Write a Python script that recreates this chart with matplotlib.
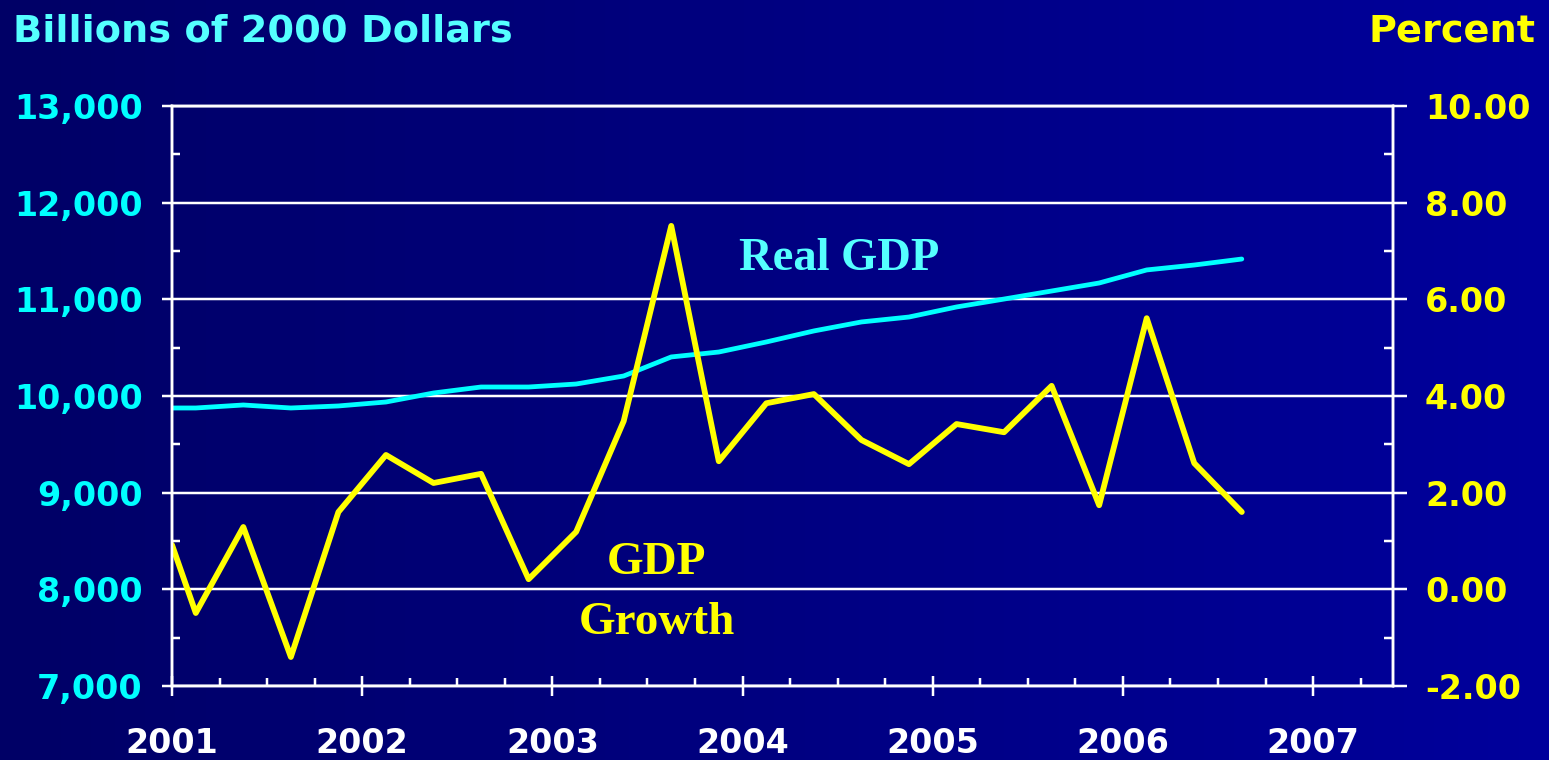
import numpy as np
import matplotlib
matplotlib.use('Agg')
import matplotlib.pyplot as plt
from matplotlib.ticker import MultipleLocator, FuncFormatter, FixedLocator

plt.rcParams['axes.unicode_minus'] = False

# quarterly points (plotted mid-quarter), first point sits on the 2001 axis
x_pos = [2001.0] + [2001.125 + 0.25 * i for i in range(23)]
real_gdp = [9876, 9876, 9907, 9876, 9897, 9938, 10031, 10093, 10093, 10124,
            10207, 10404, 10455, 10559, 10673, 10766, 10817, 10921, 11003,
            11086, 11169, 11304, 11355, 11417]
gdp_growth = [0.92, -0.49, 1.29, -1.40, 1.60, 2.78, 2.20, 2.39, 0.21, 1.19,
              3.48, 7.52, 2.65, 3.85, 4.04, 3.09, 2.59, 3.42, 3.25, 4.21,
              1.74, 5.61, 2.61, 1.60]
years = [2001, 2002, 2003, 2004, 2005, 2006, 2007]

W, H = 1549, 760
PX = 0.72  # points per pixel at dpi 100
fig = plt.figure(figsize=(W / 100, H / 100), dpi=100)

# background gradient, dark navy on the left to brighter blue on the right
bg = fig.add_axes([0, 0, 1, 1])
bg.axis('off')
t = np.linspace(0, 1, 256)
c0 = np.array([0x00, 0x00, 0x66]) / 255
c1 = np.array([0x00, 0x00, 0x9c]) / 255
grad = (c0[None, :] * (1 - t[:, None]) + c1[None, :] * t[:, None])[None, :, :]
bg.imshow(grad, aspect='auto', extent=[0, 1, 0, 1])

ax = fig.add_axes([172 / W, (H - 686) / H, (1393 - 172) / W, (686 - 106) / H])
ax.patch.set_alpha(0)
ax2 = ax.twinx()
ax2.patch.set_alpha(0)

ax.set_xlim(2001, 2007.42)
ax.set_ylim(7000, 13000)
ax2.set_ylim(-2, 10)

lw = 2.5 * PX
for a in (ax, ax2):
    for s in a.spines.values():
        s.set_color('white')
        s.set_linewidth(lw)

ax.grid(axis='y', color='white', linewidth=lw)
ax.set_axisbelow(True)

ax.plot(x_pos, real_gdp, color='#00ffff', lw=4.8 * PX, solid_capstyle='round')
ax2.plot(x_pos, gdp_growth, color='#ffff00', lw=5.8 * PX, solid_capstyle='round')

# x axis
ax.xaxis.set_major_locator(FixedLocator(years))
ax.xaxis.set_minor_locator(MultipleLocator(0.25))
ax.tick_params(axis='x', which='major', direction='inout', length=20 * PX, width=lw,
               color='white', labelcolor='white', labelsize=24, pad=22)
ax.tick_params(axis='x', which='minor', direction='in', length=8 * PX, width=lw, color='white')
for lab in ax.get_xticklabels():
    lab.set_fontweight('bold')

# left axis
ax.yaxis.set_major_locator(MultipleLocator(1000))
ax.yaxis.set_minor_locator(MultipleLocator(500))
ax.yaxis.set_major_formatter(FuncFormatter(lambda v, p: f'{v:,.0f}'))
ax.tick_params(axis='y', which='major', direction='out', length=10 * PX, width=lw,
               color='white', labelcolor='#00ffff', labelsize=24, pad=14)
ax.tick_params(axis='y', which='minor', direction='in', length=8 * PX, width=lw, color='white')
for lab in ax.get_yticklabels():
    lab.set_fontweight('bold')

# right axis
ax2.yaxis.set_major_locator(MultipleLocator(2))
ax2.yaxis.set_minor_locator(MultipleLocator(1))
ax2.yaxis.set_major_formatter(FuncFormatter(lambda v, p: f'{v:.2f}'))
ax2.tick_params(axis='y', which='major', direction='out', length=14 * PX, width=lw,
                color='white', labelcolor='#ffff00', labelsize=24, pad=13)
ax2.tick_params(axis='y', which='minor', direction='in', length=9 * PX, width=lw, color='white')
for lab in ax2.get_yticklabels():
    lab.set_fontweight('bold')

# labels on the chart
ax.text(2004.51, 11420, 'Real GDP', color='#55ffff', fontsize=33.5, fontweight='bold',
        family='Liberation Serif', ha='center', va='center')
ax2.text(2003.55, 0.55, 'GDP', color='#ffff00', fontsize=34, fontweight='bold',
         family='Liberation Serif', ha='center', va='center')
ax2.text(2003.55, -0.70, 'Growth', color='#ffff00', fontsize=34, fontweight='bold',
         family='Liberation Serif', ha='center', va='center')

fig.text(13 / W, 1 - 31 / H, 'Billions of 2000 Dollars', color='#55ffff', fontsize=27.5,
         fontweight='bold', ha='left', va='center')
fig.text(1535 / W, 1 - 31 / H, 'Percent', color='#ffff00', fontsize=27.5,
         fontweight='bold', ha='right', va='center')

fig.savefig('out.png', dpi=100)
